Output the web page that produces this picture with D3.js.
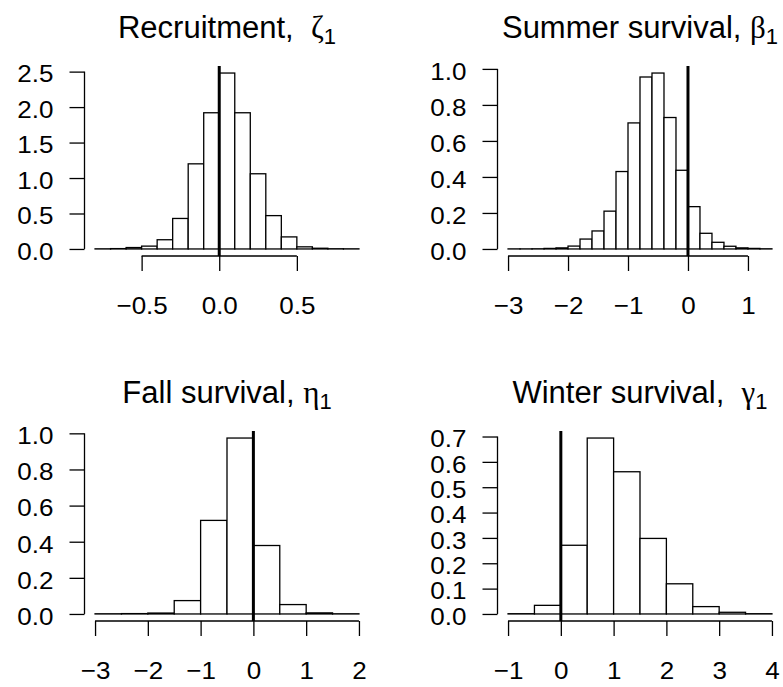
<!DOCTYPE html>
<html>
<head>
<meta charset="utf-8">
<script src="https://cdn.jsdelivr.net/npm/d3@7"></script>
<style>
  body { margin: 0; background: #fff; }
  svg text { font-family: "Liberation Sans", Arial, sans-serif; fill: #000; }
</style>
</head>
<body>
<div id="chart"></div>
<script>
// histogram densities
const recruitBreaks = [-0.8, -0.7, -0.6, -0.5, -0.4, -0.3, -0.2, -0.1, 0.0, 0.1, 0.2, 0.3, 0.4, 0.5, 0.6, 0.7, 0.8, 0.9];
const recruitDensity = [0.002, 0.005, 0.02, 0.04, 0.13, 0.43, 1.20, 1.92, 2.48, 1.92, 1.06, 0.47, 0.17, 0.03, 0.01, 0.003, 0.002];

const summerBreaks = [-3.0, -2.8, -2.6, -2.4, -2.2, -2.0, -1.8, -1.6, -1.4, -1.2, -1.0, -0.8, -0.6, -0.4, -0.2, 0.0, 0.2, 0.4, 0.6, 0.8, 1.0, 1.2, 1.4];
const summerDensity = [0.0005, 0.0005, 0.001, 0.003, 0.006, 0.016, 0.055, 0.10, 0.21, 0.43, 0.70, 0.955, 0.977, 0.73, 0.437, 0.235, 0.087, 0.037, 0.015, 0.006, 0.003, 0.001];

const fallBreaks = [-3.0, -2.5, -2.0, -1.5, -1.0, -0.5, 0.0, 0.5, 1.0, 1.5, 2.0];
const fallDensity = [0.001, 0.002, 0.005, 0.074, 0.518, 0.974, 0.379, 0.052, 0.006, 0.001];

const winterBreaks = [-1.0, -0.5, 0.0, 0.5, 1.0, 1.5, 2.0, 2.5, 3.0, 3.5, 4.0];
const winterDensity = [0.001, 0.034, 0.271, 0.694, 0.561, 0.298, 0.119, 0.029, 0.0066, 0.001];

const recruitXTicks = [-0.5, 0.0, 0.5];
const recruitYTicks = [0, 0.5, 1.0, 1.5, 2.0, 2.5];
const summerXTicks = [-3, -2, -1, 0, 1];
const summerYTicks = [0, 0.2, 0.4, 0.6, 0.8, 1.0];
const fallXTicks = [-3, -2, -1, 0, 1, 2];
const fallYTicks = [0, 0.2, 0.4, 0.6, 0.8, 1.0];
const winterXTicks = [-1, 0, 1, 2, 3, 4];
const winterYTicks = [0, 0.1, 0.2, 0.3, 0.4, 0.5, 0.6, 0.7];

const panels = [
  { title: 'Recruitment,\u00a0\u00a0', greek: '\u03b6', breaks: recruitBreaks, dens: recruitDensity,
    xt: recruitXTicks, yt: recruitYTicks, xf: '.1f', left: 84.5, top: 66 },
  { title: 'Summer survival, ', greek: '\u03b2', breaks: summerBreaks, dens: summerDensity,
    xt: summerXTicks, yt: summerYTicks, xf: 'd', left: 497.5, top: 66 },
  { title: 'Fall survival, ', greek: '\u03b7', breaks: fallBreaks, dens: fallDensity,
    xt: fallXTicks, yt: fallYTicks, xf: 'd', left: 84.5, top: 431 },
  { title: 'Winter survival,\u00a0\u00a0', greek: '\u03b3', breaks: winterBreaks, dens: winterDensity,
    xt: winterXTicks, yt: winterYTicks, xf: 'd', left: 497.5, top: 431 },
];

const W = 783, H = 687;
const pw = 285, ph = 190;
const tickFont = 24.5, tickWide = 26; // glyphs in the reference are a touch wider than tall

const svg = d3.select('#chart').append('svg')
  .attr('width', W)
  .attr('height', H);

// R style range padding (4%)
const pad = ([a, b]) => {
  const d = (b - a) * 0.04;
  return [a - d, b + d];
};

function stretch(sel) {
  sel.style('font-size', tickFont + 'px')
    .each(function () {
      const len = this.getComputedTextLength();
      d3.select(this)
        .attr('textLength', len * tickWide / tickFont)
        .attr('lengthAdjust', 'spacingAndGlyphs');
    });
}

panels.forEach(p => {
  const g = svg.append('g').attr('transform', `translate(${p.left}, ${p.top})`);

  const bins = p.dens.map((d, i) => ({ x0: p.breaks[i], x1: p.breaks[i + 1], y: d }));
  const x = d3.scaleLinear()
    .domain(pad(d3.extent(p.breaks)))
    .range([0, pw]);
  const y = d3.scaleLinear()
    .domain(pad([0, d3.max(p.dens)]))
    .range([ph, 0]);

  g.selectAll('rect.bar')
    .data(bins)
    .join('rect')
    .attr('class', 'bar')
    .attr('x', d => x(d.x0))
    .attr('y', d => y(d.y))
    .attr('width', d => x(d.x1) - x(d.x0))
    .attr('height', d => y(0) - y(d.y))
    .attr('fill', '#fff')
    .attr('stroke', '#000')
    .attr('stroke-width', 1.3);

  // abline(v = 0)
  g.append('line')
    .attr('x1', x(0)).attr('x2', x(0))
    .attr('y1', 0).attr('y2', ph)
    .attr('stroke', '#000')
    .attr('stroke-width', 3);

  // x axis
  const ax = g.append('g')
    .attr('transform', `translate(0, ${ph})`)
    .call(d3.axisBottom(x).tickValues(p.xt).tickFormat(d3.format(p.xf)).tickSize(15).tickSizeOuter(0));
  ax.select('.domain').remove();
  ax.append('line')
    .attr('x1', x(p.xt[0])).attr('x2', x(p.xt[p.xt.length - 1]))
    .attr('stroke', '#000').attr('stroke-width', 1.3);
  ax.selectAll('.tick line').attr('stroke-width', 1.3);
  ax.selectAll('.tick text')
    .attr('y', 58).attr('dy', null)
    .call(stretch);

  // y axis
  const ay = g.append('g')
    .call(d3.axisLeft(y).tickValues(p.yt).tickFormat(d3.format('.1f')).tickSize(15).tickSizeOuter(0).tickPadding(16));
  ay.select('.domain').remove();
  ay.append('line')
    .attr('y1', y(p.yt[0])).attr('y2', y(p.yt[p.yt.length - 1]))
    .attr('stroke', '#000').attr('stroke-width', 1.3);
  ay.selectAll('.tick line').attr('stroke-width', 1.3);
  ay.selectAll('.tick text')
    .attr('dy', '0.42em')
    .call(stretch);

  // title
  const t = g.append('text')
    .attr('x', pw / 2)
    .attr('y', -28)
    .attr('text-anchor', 'middle')
    .style('font-size', '31px');
  t.append('tspan').text(p.title);
  t.append('tspan')
    .style('font-family', '"Liberation Serif", "DejaVu Serif", serif')
    .text(p.greek);
  t.append('tspan')
    .attr('dy', 6)
    .style('font-size', '22px')
    .text('1');
});
</script>
</body>
</html>
